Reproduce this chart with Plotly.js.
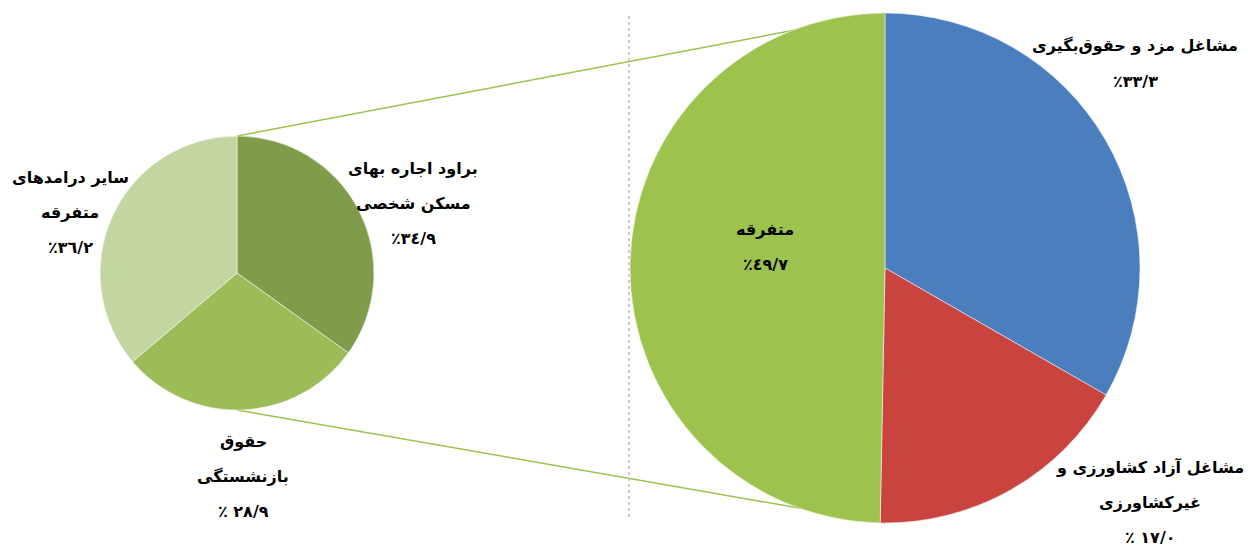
<!DOCTYPE html>
<html>
<head>
<meta charset="utf-8">
<script src="https://cdn.plot.ly/plotly-3.0.1.min.js"></script>
<style>html,body{margin:0;padding:0;background:#fff;}#chart{width:1248px;height:551px;}</style>
</head>
<body>
<div id="chart"></div>
<script>
// Big pie (overall income composition)
const bigLabels = ["مشاغل مزد و حقوق‌بگیری", "مشاغل آزاد کشاورزی و غیرکشاورزی", "متفرقه"];
const bigValues = [33.3, 17.0, 49.7];
const bigLabelLines = [
  ["مشاغل مزد و حقوق‌بگیری", "\u200E٪\u200E٣٣/٣"],
  ["مشاغل آزاد کشاورزی و", "غیرکشاورزی", "\u200E٪ \u200E١٧/٠"],
  ["متفرقه", "\u200E٪\u200E٤٩/٧"]
];
const bigColors = ["#4A7EBF", "#C9433F", "#9DC24E"];

// Small pie (breakdown of "متفرقه")
const smallLabels = ["براود اجاره بهای مسکن شخصی", "حقوق بازنشستگی", "سایر درامدهای متفرقه"];
const smallValues = [34.9, 28.9, 36.2];
const smallLabelLines = [
  ["براود اجاره بهای", "مسکن شخصی", "\u200E٪\u200E٣٤/٩"],
  ["حقوق", "بازنشستگی", "\u200E٪ \u200E٢٨/٩"],
  ["سایر درامدهای", "متفرقه", "\u200E٪\u200E٣٦/٢"]
];
const smallColors = ["#7F9C4A", "#9CBC58", "#C3D5A0"];

const W = 1248, H = 551;
const px = x => x / W, py = y => 1 - y / H;

const bigDomain = {x: [px(630), px(1140)], y: [py(523), py(13)]};
const smallDomain = {x: [px(100), px(374)], y: [py(410), py(136)]};

const traces = [
  {type: 'pie', values: bigValues, labels: bigLabels, sort: false, direction: 'clockwise', rotation: 0,
   marker: {colors: bigColors, line: {color: '#ffffff', width: 0.5}}, textinfo: 'none', hoverinfo: 'label+value',
   domain: bigDomain, showlegend: false},
  {type: 'pie', values: smallValues, labels: smallLabels, sort: false, direction: 'clockwise', rotation: 0,
   marker: {colors: smallColors, line: {color: '#ffffff', width: 0.5}}, textinfo: 'none', hoverinfo: 'label+value',
   domain: smallDomain, showlegend: false}
];

// label anchor positions (pixel) : [centerX, firstLineY]
const bigPos = [[1135, 46], [1150, 467], [765, 229]];
const smallPos = [[413, 168], [243, 441], [70, 177]];
const lineGap = 35;

const annotations = [];
function addLabels(lines, pos) {
  lines.forEach((ls, i) => {
    ls.forEach((t, j) => {
      annotations.push({
        xref: 'paper', yref: 'paper', x: px(pos[i][0]), y: py(pos[i][1] + j * lineGap),
        xanchor: 'center', yanchor: 'middle', showarrow: false, text: '<b>' + t + '</b>',
        font: {family: 'DejaVu Sans', size: 16, color: '#000000'}
      });
    });
  });
}
addLabels(bigLabelLines, bigPos);
addLabels(smallLabelLines, smallPos);

const smallCx = (smallDomain.x[0] + smallDomain.x[1]) / 2;
const bigCx = (bigDomain.x[0] + bigDomain.x[1]) / 2;
const shapes = [
  {type: 'line', xref: 'paper', yref: 'paper', x0: smallCx, y0: smallDomain.y[1], x1: bigCx, y1: bigDomain.y[1],
   line: {color: '#9DC24E', width: 1.5}, layer: 'below'},
  {type: 'line', xref: 'paper', yref: 'paper', x0: smallCx, y0: smallDomain.y[0], x1: bigCx, y1: bigDomain.y[0],
   line: {color: '#9DC24E', width: 1.5}, layer: 'below'},
  {type: 'line', xref: 'paper', yref: 'paper', x0: px(629), y0: py(16), x1: px(629), y1: py(518),
   line: {color: '#BBBBBB', width: 1.5, dash: 'dot'}, layer: 'below'}
];

Plotly.newPlot('chart', traces, {
  width: W, height: H, margin: {l: 0, r: 0, t: 0, b: 0},
  paper_bgcolor: '#ffffff', plot_bgcolor: '#ffffff',
  annotations: annotations, shapes: shapes
}, {displayModeBar: false, staticPlot: true});
</script>
</body>
</html>
